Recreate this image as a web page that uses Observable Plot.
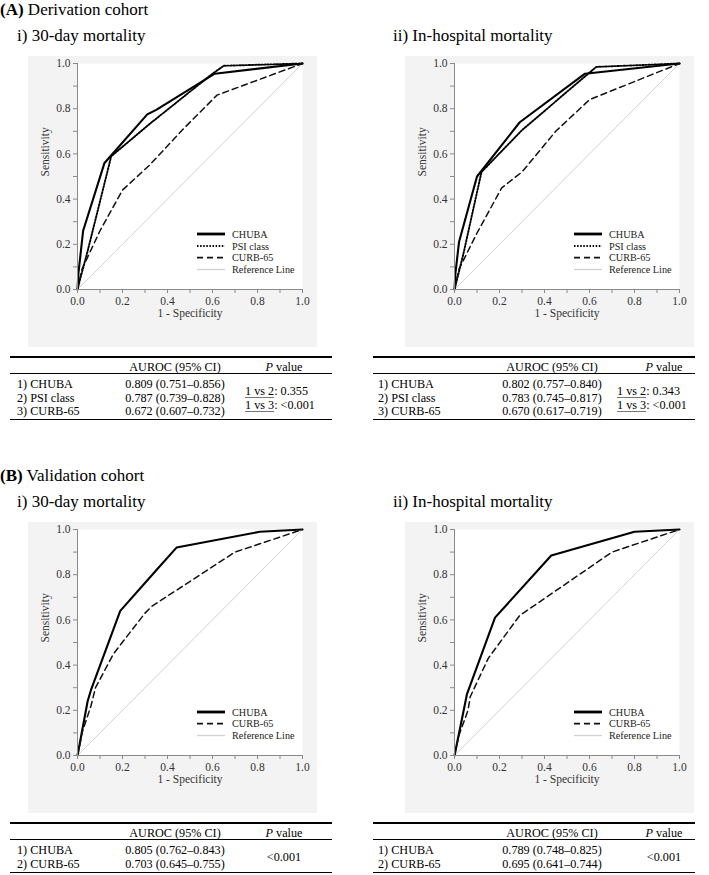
<!DOCTYPE html>
<html><head><meta charset="utf-8">
<script src="https://cdn.jsdelivr.net/npm/d3@7"></script>
<script src="https://cdn.jsdelivr.net/npm/@observablehq/plot@0.6"></script>
<style>
body{margin:0;background:#fff;font-family:"Liberation Serif","Times New Roman",serif;color:#000}
#page{position:relative;width:709px;height:875px;overflow:hidden}
.abs{position:absolute;white-space:nowrap}
.u{text-decoration:underline;text-decoration-color:#777;text-underline-offset:2px}
</style></head>
<body><div id="page"></div>
<script>
// ---------- DATA ----------
// ROC points as [1 - specificity, sensitivity]
const refLine = [[0,0],[1,1]];
const der30_CHUBA = [[0,0],[0.004,0.07],[0.025,0.26],[0.12,0.56],[0.31,0.775],[0.35,0.795],[0.61,0.955],[1,1]];
const der30_PSI   = [[0,0],[0.01,0.04],[0.04,0.15],[0.15,0.59],[0.33,0.74],[0.6,0.955],[0.65,0.99],[1,1]];
const der30_CURB  = [[0,0],[0.02,0.09],[0.1,0.26],[0.2,0.44],[0.32,0.55],[0.47,0.71],[0.62,0.86],[1,1]];
const derH_CHUBA  = [[0,0],[0.004,0.07],[0.02,0.21],[0.1,0.5],[0.29,0.74],[0.58,0.955],[1,1]];
const derH_PSI    = [[0,0],[0.01,0.04],[0.04,0.16],[0.12,0.52],[0.3,0.705],[0.6,0.96],[0.63,0.985],[1,1]];
const derH_CURB   = [[0,0],[0.02,0.09],[0.1,0.25],[0.21,0.45],[0.3,0.52],[0.45,0.7],[0.6,0.84],[0.65,0.86],[0.8,0.92],[1,1]];
const val30_CHUBA = [[0,0],[0.045,0.24],[0.06,0.29],[0.19,0.64],[0.35,0.82],[0.44,0.92],[0.81,0.99],[1,1]];
const val30_CURB  = [[0,0],[0.015,0.07],[0.02,0.1],[0.06,0.22],[0.08,0.3],[0.16,0.45],[0.3,0.63],[0.33,0.66],[0.7,0.9],[1,1]];
const valH_CHUBA  = [[0,0],[0.045,0.22],[0.055,0.27],[0.18,0.61],[0.43,0.885],[0.8,0.99],[1,1]];
const valH_CURB   = [[0,0],[0.02,0.09],[0.06,0.2],[0.07,0.26],[0.15,0.43],[0.29,0.62],[0.32,0.64],[0.7,0.9],[1,1]];

const tickValues = [0,0.1,0.2,0.3,0.4,0.5,0.6,0.7,0.8,0.9,1.0];
const xTitle = "1 - Specificity";
const yTitle = "Sensitivity";
const seriesNames = ["CHUBA","PSI class","CURB-65","Reference Line"];

const sectionTitles = ["Derivation cohort","Validation cohort"];
const sectionTags = ["(A)","(B)"];
const panelTitles = ["i) 30-day mortality","ii) In-hospital mortality"];

const tableHeader = ["AUROC (95% CI)","value"];
const modelsA = ["1) CHUBA","2) PSI class","3) CURB-65"];
const modelsB = ["1) CHUBA","2) CURB-65"];
const aurocDer30 = ["0.809 (0.751–0.856)","0.787 (0.739–0.828)","0.672 (0.607–0.732)"];
const aurocDerH  = ["0.802 (0.757–0.840)","0.783 (0.745–0.817)","0.670 (0.617–0.719)"];
const aurocVal30 = ["0.805 (0.762–0.843)","0.703 (0.645–0.755)"];
const aurocValH  = ["0.789 (0.748–0.825)","0.695 (0.641–0.744)"];
const pDer30 = [["1 vs 2",": 0.355"],["1 vs 3",": <0.001"]];
const pDerH  = [["1 vs 2",": 0.343"],["1 vs 3",": <0.001"]];
const pVal30 = "<0.001";
const pValH  = "<0.001";

// ---------- STYLES ----------
const seriesStyle = {
  "CHUBA":          {stroke:"#000", strokeWidth:2.1, strokeDasharray:null},
  "PSI class":      {stroke:"#000", strokeWidth:1.9, strokeDasharray:"1.5,1.6"},
  "CURB-65":        {stroke:"#111", strokeWidth:1.5, strokeDasharray:"6,4"},
  "Reference Line": {stroke:"#d2d2d2", strokeWidth:1, strokeDasharray:null}
};

const page = document.getElementById("page");
const FONT = "Liberation Serif, Times New Roman, serif";
const TFS = 12.2;     // table font size
const RSTEP = 13.4;   // table row step

function addText(html, left, top, size, extra) {
  const d = document.createElement("div");
  d.className = "abs";
  d.innerHTML = html;
  d.style.left = left + "px";
  d.style.top = top + "px";
  d.style.fontSize = size + "px";
  d.style.lineHeight = "1";
  if (extra) Object.assign(d.style, extra);
  page.appendChild(d);
  return d;
}

const fmt = d => (Math.round(d * 10) % 2 ? "" : d.toFixed(1));

function rocPlot(curves) {
  const marks = [
    Plot.frame({fill:"#fff", stroke:null}),
    Plot.line(refLine, {x:d=>d[0], y:d=>d[1], ...seriesStyle["Reference Line"]}),
    ...curves.map(([name, data]) => Plot.line(data, {x:d=>d[0], y:d=>d[1], ...seriesStyle[name], strokeLinejoin:"round"})),
    Plot.ruleX([0], {stroke:"#8a8a8a", strokeWidth:1}),
    Plot.ruleY([0], {stroke:"#8a8a8a", strokeWidth:1}),
    Plot.axisX({ticks:tickValues, tickFormat:fmt, tickSize:4, tickPadding:3, stroke:"#8a8a8a", fill:"#333", label:null, fontSize:11.5}),
    Plot.axisY({ticks:tickValues, tickFormat:fmt, tickSize:4, tickPadding:3, stroke:"#8a8a8a", fill:"#333", label:null, fontSize:11.5}),
    Plot.text([xTitle], {text:d=>d, frameAnchor:"bottom", dy:27, fill:"#333", fontSize:11.5}),
    Plot.text([yTitle], {text:d=>d, frameAnchor:"left", dx:-32, rotate:-90, fill:"#333", fontSize:11.5})
  ];
  return Plot.plot({
    width:289, height:291,
    marginLeft:49, marginRight:15, marginTop:7, marginBottom:58,
    x:{domain:[0,1]}, y:{domain:[0,1]},
    style:{background:"#f3f3f3", fontFamily:FONT, fontSize:"11.5px", color:"#333", overflow:"visible"},
    marks
  });
}

function legend(names, left, rowsY) {
  const svg = d3.create("svg").attr("width", 110).attr("height", 60)
    .style("position","absolute").style("left", left + "px").style("top", (rowsY[0] - 6) + "px")
    .style("overflow","visible");
  names.forEach((n, i) => {
    const y = rowsY[i] - rowsY[0] + 6;
    const s = seriesStyle[n];
    svg.append("line").attr("x1", 0).attr("x2", 28).attr("y1", y).attr("y2", y)
      .attr("stroke", s.stroke).attr("stroke-width", s.strokeWidth + (n==="CHUBA"?0.7:0.3))
      .attr("stroke-dasharray", s.strokeDasharray);
    svg.append("text").attr("x", 35).attr("y", y).attr("dy", "0.35em")
      .attr("font-family", FONT).attr("font-size", 10.2).attr("fill", "#222").text(n);
  });
  page.appendChild(svg.node());
}

function placePlot(node, left, top) {
  node.style.position = "absolute";
  node.style.left = left + "px";
  node.style.top = top + "px";
  page.appendChild(node);
}

function rule(x, y, w, h) {
  const d = document.createElement("div");
  d.className = "abs";
  Object.assign(d.style, {left:x+"px", top:y+"px", width:w+"px", height:h+"px", background:"#000"});
  page.appendChild(d);
}

function centered(html, cx, cy, size, extra) {
  return addText(html, cx, cy - size/2, size, Object.assign({transform:"translateX(-50%)"}, extra || {}));
}

function table(x0, w, top, cols, models, aurocs, pcell) {
  rule(x0, top - 1, w, 2);
  centered(tableHeader[0], cols.val, top + 10, TFS);
  centered("<i>P</i> " + tableHeader[1], cols.p, top + 10, TFS);
  rule(x0, top + 15.5, w, 1.4);
  const rowY = models.map((_, i) => top + 27.5 + i * RSTEP);
  models.forEach((m, i) => {
    addText(m, cols.label, rowY[i] - TFS/2, TFS);
    centered(aurocs[i], cols.val, rowY[i], TFS);
  });
  const last = rowY[rowY.length - 1];
  rule(x0, last + 8, w, 1.1);
  if (Array.isArray(pcell)) {
    pcell.forEach((p, i) => {
      addText('<span class="u">' + p[0] + '</span>' + p[1], cols.vs, (rowY[i] + rowY[i+1]) / 2 - TFS/2, TFS);
    });
  } else {
    centered(pcell, cols.p, (rowY[0] + rowY[1]) / 2, TFS);
  }
}

// ---------- LAYOUT ----------
const sectionTop = [0, 466];
const colX = [28, 405];
const panelTitleX = [17, 393];

sectionTop.forEach((oy, s) => {
  addText("<b>" + sectionTags[s] + "</b> " + sectionTitles[s], 0, oy + 1, 17);
  panelTitles.forEach((t, p) => addText(t, panelTitleX[p], oy + 27, 17));
});

const panels = [
  {left:colX[0], top:56,  curves:[["CHUBA",der30_CHUBA],["PSI class",der30_PSI],["CURB-65",der30_CURB]], names:seriesNames},
  {left:colX[1], top:56,  curves:[["CHUBA",derH_CHUBA],["PSI class",derH_PSI],["CURB-65",derH_CURB]], names:seriesNames},
  {left:colX[0], top:522, curves:[["CHUBA",val30_CHUBA],["CURB-65",val30_CURB]], names:["CHUBA","CURB-65","Reference Line"]},
  {left:colX[1], top:522, curves:[["CHUBA",valH_CHUBA],["CURB-65",valH_CURB]], names:["CHUBA","CURB-65","Reference Line"]}
];

panels.forEach(p => {
  placePlot(rocPlot(p.curves), p.left, p.top);
  const rows = p.names.length === 4 ? [234, 246, 257.7, 269.5] : [246, 257.7, 269.5];
  legend(p.names, p.left + 169, rows.map(r => r + (p.top - 56)));
});

// ---------- TABLES ----------
const colsL = {label:17, val:175, p:284, vs:245};
const colsR = {label:378, val:552, p:664, vs:617};
table(10, 322, 357, colsL, modelsA, aurocDer30, pDer30);
table(373, 322, 357, colsR, modelsA, aurocDerH, pDerH);
table(10, 322, 823, colsL, modelsB, aurocVal30, pVal30);
table(373, 322, 823, colsR, modelsB, aurocValH, pValH);
</script>
</body></html>
